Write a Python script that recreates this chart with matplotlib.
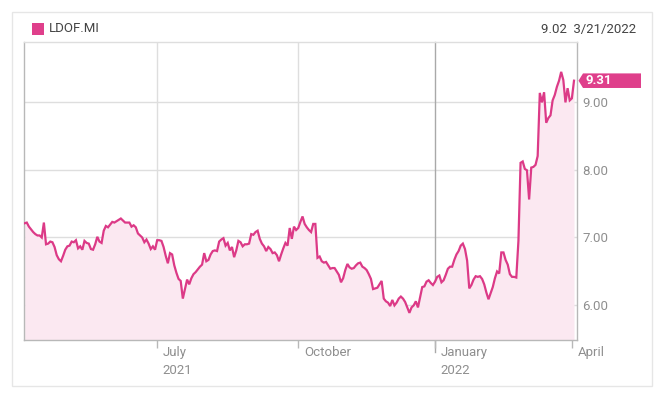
import matplotlib
matplotlib.use("Agg")
import matplotlib.pyplot as plt
import matplotlib.transforms as mtransforms
from matplotlib.patches import Rectangle, Polygon
import pandas as pd

plt.rcParams['font.family'] = ['Roboto', 'DejaVu Sans']

# ---------------- data ----------------
ticker = "LDOF.MI"
header_value = "9.02"
header_date = "3/21/2022"
holidays = ["2021-12-24", "2021-12-31"]
start_date = "2021-04-06"
end_date = "2022-04-04"

close = [
    7.21, 7.22, 7.16, 7.12, 7.08, 7.05, 7.03, 7.03, 7.00, 7.22,
    6.90, 6.91, 6.94, 6.93, 6.86, 6.74, 6.68, 6.65, 6.73, 6.82,
    6.87, 6.88, 6.94, 6.93, 6.96, 6.84, 6.87, 6.82, 6.95, 6.92,
    6.91, 6.83, 6.82, 6.90, 7.01, 6.94, 6.92, 7.10, 7.17, 7.15,
    7.19, 7.23, 7.22, 7.24, 7.26, 7.28, 7.25, 7.22, 7.22, 7.22,
    7.16, 7.18, 7.15, 7.06, 7.03, 7.00, 6.93, 6.97, 6.91, 6.83,
    6.87, 6.82, 6.96, 6.96, 6.95, 6.86, 6.73, 6.62, 6.77, 6.75,
    6.59, 6.48, 6.39, 6.36, 6.10, 6.24, 6.38, 6.31, 6.40, 6.46,
    6.49, 6.53, 6.57, 6.60, 6.77, 6.65, 6.67, 6.75, 6.80, 6.81,
    6.80, 6.94, 6.97, 6.99, 6.88, 6.92, 6.81, 6.86, 6.71, 6.81,
    6.95, 6.93, 6.87, 6.90, 6.90, 6.91, 7.05, 7.04, 7.08, 7.10,
    6.98, 6.91, 6.87, 6.80, 6.86, 6.83, 6.77, 6.78, 6.74, 6.65,
    6.75, 6.84, 6.92, 6.88, 7.14, 6.98, 7.16, 7.11, 7.14, 7.23,
    7.31, 7.20, 7.15, 7.11, 7.08, 7.20, 7.20, 6.70, 6.72, 6.65,
    6.63, 6.64, 6.59, 6.54, 6.55, 6.55, 6.50, 6.45, 6.34, 6.40,
    6.52, 6.61, 6.56, 6.54, 6.55, 6.59, 6.62, 6.63, 6.57, 6.55,
    6.52, 6.46, 6.39, 6.24, 6.25, 6.26, 6.31, 6.36, 6.10, 6.06,
    6.04, 5.99, 6.08, 6.00, 6.04, 6.10, 6.13, 6.10, 6.05, 5.97,
    5.89, 5.97, 6.00, 6.06, 5.97, 6.12, 6.27, 6.28, 6.35, 6.37,
    6.33, 6.30, 6.35, 6.42, 6.44, 6.34, 6.37, 6.45, 6.54, 6.57,
    6.57, 6.67, 6.75, 6.80, 6.88, 6.91, 6.83, 6.66, 6.25, 6.30,
    6.38, 6.43, 6.42, 6.43, 6.39, 6.31, 6.19, 6.09, 6.18, 6.27,
    6.40, 6.50, 6.47, 6.78, 6.78, 6.67, 6.60, 6.46, 6.42, 6.42,
    6.41, 6.95, 8.10, 8.12, 8.01, 7.99, 7.56, 8.03, 8.04, 8.07,
    8.20, 9.13, 8.99, 9.14, 8.69, 8.76, 8.80, 9.02, 9.10, 9.22,
    9.31, 9.44, 9.32, 8.99, 9.20, 9.02, 9.05, 9.31,
]

x_tick_dates = ["2021-07-01", "2021-10-01", "2022-01-03", "2022-04-01"]
x_tick_labels = ["July\n2021", "October", "January\n2022", "April"]
y_ticks = [6.0, 7.0, 8.0, 9.0]

# ---------------- calendar (trading days) ----------------
dates = pd.bdate_range(start_date, end_date)
dates = dates[~dates.isin(pd.to_datetime(holidays))]
dates = dates[:len(close)]
idx = list(range(len(dates)))
date_pos = {d: i for i, d in enumerate(dates)}
tick_pos = [date_pos[pd.Timestamp(d)] for d in x_tick_dates]

# ---------------- style ----------------
LINE = "#dc3a87"
FILL = "#fbe8f1"
GRID = "#dedede"
AXIS = "#b8b8b8"
TXT = "#444444"
TICKTXT = "#8f8f8f"

W, H = 666, 399
fig = plt.figure(figsize=(W / 100, H / 100), dpi=100)

# outer card border
fig.patches.append(Rectangle((12 / W, 1 - 386 / H), (652 - 12) / W, (386 - 12) / H,
                             transform=fig.transFigure, fill=False,
                             edgecolor="#e6e6e6", linewidth=1))

ax = fig.add_axes([24 / W, 1 - 340 / H, (577 - 24) / W, (340 - 42) / H])

ymin, ymax = 5.49, 9.88
ax.set_ylim(ymin, ymax)
ax.set_xlim(-0.3, len(close) + 0.4)

ax.fill_between(idx, close, ymin, color=FILL, linewidth=0, zorder=1)
ax.plot(idx, close, color=LINE, linewidth=1.6, zorder=3, solid_joinstyle="miter")

# grid
for y in y_ticks:
    ax.axhline(y, color=GRID, linewidth=1, zorder=0.5)
for p, lab in zip(tick_pos, x_tick_labels):
    if lab.startswith("January"):
        ax.axvline(p, ymin=-0.04, ymax=1, color="#a9a9a9", linewidth=1,
                   zorder=0.6, clip_on=False)
    elif lab.startswith("April"):
        pass
    else:
        ax.axvline(p, color=GRID, linewidth=1, zorder=0.5)

# spines
for s in ["left", "bottom", "right"]:
    ax.spines[s].set_color(AXIS)
    ax.spines[s].set_linewidth(1)
ax.spines["top"].set_color(GRID)
ax.spines["top"].set_linewidth(1)

# x ticks
ax.set_xticks(tick_pos)
ax.set_xticklabels([])
ax.tick_params(axis="x", length=6, width=1, color=AXIS)
for p, lab in zip(tick_pos, x_tick_labels):
    ax.annotate(lab, xy=(p, 0), xycoords=("data", "axes fraction"),
                xytext=(4.0, -4.5), textcoords="offset points",
                ha="left", va="top", fontsize=9.5, color=TICKTXT,
                linespacing=1.45)

# y ticks on the right
ax.yaxis.tick_right()
ax.set_yticks(y_ticks)
ax.set_yticklabels([f"{v:.2f}" for v in y_ticks])
ax.tick_params(axis="y", length=0, pad=4, labelsize=9.5, labelcolor=TICKTXT)

ax.set_facecolor("white")

# last value tag
last = close[-1]
trans = mtransforms.blended_transform_factory(ax.transAxes, ax.transData)
aw = (577 - 24)
h = 7.3 / 68.0
x0 = 1.0 + 1.5 / aw
x1 = 1.0 + 6.0 / aw
x2 = 1.0 + 64.0 / aw
tag = Polygon([(x0, last), (x1, last + h), (x2, last + h), (x2, last - h), (x1, last - h)],
              closed=True, transform=trans, facecolor="#df3f8b", edgecolor="none",
              clip_on=False, zorder=5)
ax.add_patch(tag)
ax.text(1.0 + 9.0 / aw, last, f"{last:.2f}", transform=trans, ha="left", va="center",
        color="white", fontsize=9.5, fontweight="bold", zorder=6, clip_on=False)

# header
fig.patches.append(Rectangle((32 / W, 1 - 35 / H), 12 / W, 12 / H,
                             transform=fig.transFigure, facecolor="#df3f8b",
                             edgecolor="none"))
fig.text(49 / W, 1 - 29 / H, ticker, ha="left", va="center", fontsize=9.5, color=TXT)
fig.text(636 / W, 1 - 29 / H, f"{header_value}  {header_date}", ha="right", va="center",
         fontsize=9.5, color=TXT)

fig.savefig("out.png", dpi=100, facecolor="white")
